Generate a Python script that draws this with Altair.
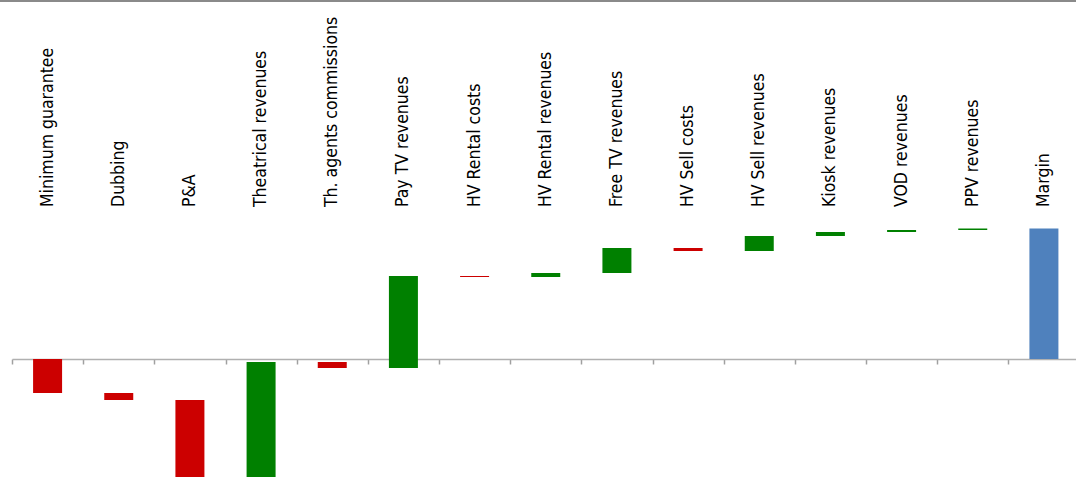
import altair as alt
import pandas as pd

categories = [
    "Minimum guarantee", "Dubbing", "P&A", "Theatrical revenues",
    "Th. agents commissions", "Pay TV revenues", "HV Rental costs",
    "HV Rental revenues", "Free TV revenues", "HV Sell costs",
    "HV Sell revenues", "Kiosk revenues", "VOD revenues", "PPV revenues",
    "Margin",
]
# step amounts (last item "Margin" is the running total)
amounts = [-34, -7, -77, 115, -6, 92, -1, 4, 25, -3, 15, 4, 2, 1.5, None]
kinds = ["cost", "cost", "cost", "revenue", "cost", "revenue", "cost",
         "revenue", "revenue", "cost", "revenue", "revenue", "revenue",
         "revenue", "total"]

rows = []
running = 0.0
for cat, amt, kind in zip(categories, amounts, kinds):
    if kind == "total":
        rows.append({"cat": cat, "start": 0.0, "end": running, "kind": kind})
    else:
        rows.append({"cat": cat, "start": running, "end": running + amt, "kind": kind})
        running += amt
df = pd.DataFrame(rows)

W, H = 1064, 499
ZERO_FROM_BOTTOM = 140

xscale = alt.Scale(domain=categories, paddingInner=0, paddingOuter=0,
                   range=[0, 1067.5])
yscale = alt.Scale(domain=[-140, 359], nice=False, zero=False)

bars = alt.Chart(df).mark_bar(size=29).encode(
    x=alt.X("cat:N", scale=xscale, sort=categories,
            axis=alt.Axis(title=None, labels=False, orient="bottom",
                          offset=-ZERO_FROM_BOTTOM, tickBand="extent",
                          domainColor="#b0b0b0", domainWidth=1.5,
                          tickColor="#a0a0a0", tickSize=5, tickWidth=1.5,
                          grid=False)),
    y=alt.Y("start:Q", scale=yscale, axis=None),
    y2="end:Q",
    color=alt.Color("kind:N",
                    scale=alt.Scale(domain=["cost", "revenue", "total"],
                                    range=["#CC0000", "#008000", "#4F81BD"]),
                    legend=None),
)

labels = alt.Chart(df).mark_text(
    angle=270, align="left", baseline="middle",
    font="DejaVu Sans Condensed", fontSize=17.5, color="#000000",
).encode(
    x=alt.X("cat:N", scale=xscale, sort=categories),
    y=alt.value(207),
    text="cat:N",
)

border = alt.Chart(df.head(1)).mark_rule(color="#8a8a8a", strokeWidth=2).encode(
    x=alt.value(-12), x2=alt.value(W), y=alt.value(1),
)

chart = alt.layer(bars, labels, border).properties(
    width=W, height=H,
    autosize=alt.AutoSizeParams(type="none"),
    padding={"left": 12, "top": 0, "right": 0, "bottom": 0},
).configure_view(stroke=None)

chart.save("out.html", embed_options={"renderer": "svg", "actions": False})
